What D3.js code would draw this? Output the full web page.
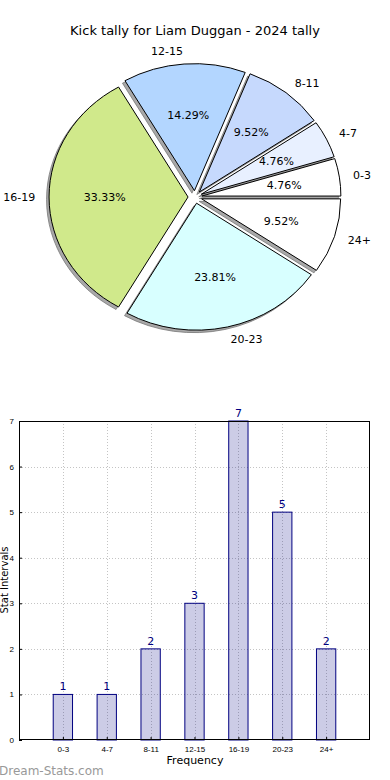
<!DOCTYPE html>
<html>
<head>
<meta charset="utf-8">
<script src="https://cdn.jsdelivr.net/npm/d3@7"></script>
<style>
  body { margin: 0; background: #fff; }
  svg { display: block; font-family: "DejaVu Sans", sans-serif; }
</style>
</head>
<body>
<div id="chart"></div>
<script>
var categories = ["0-3", "4-7", "8-11", "12-15", "16-19", "20-23", "24+"];
var counts = [1, 1, 2, 3, 7, 5, 2];
var sliceColors = ["#ffffff", "#e8f0ff", "#c6d9fd", "#b3d6ff", "#d0e98b", "#d8ffff", "#ffffff"];
var yTicks = [0, 1, 2, 3, 4, 5, 6, 7];

(function() {
  var width = 390, height = 780;

  var svg = d3.select("#chart").append("svg")
    .attr("width", width)
    .attr("height", height);

  // ---------- pie ----------
  svg.append("text")
    .attr("x", 195).attr("y", 35)
    .attr("text-anchor", "middle")
    .style("font-size", "13px")
    .text("Kick tally for Liam Duggan - 2024 tally");

  var cx = 195, cy = 197, rx = 139, ry = 127, explode = 0.05;
  var total = d3.sum(counts);

  // matplotlib starts at 3 o'clock and goes counter-clockwise
  var pie = d3.pie().sort(null)
    .startAngle(Math.PI / 2)
    .endAngle(Math.PI / 2 - 2 * Math.PI);

  var slices = pie(counts);

  var arc = d3.arc().innerRadius(0).outerRadius(1);

  function mid(d) { return (d.startAngle + d.endAngle) / 2; }

  var pieG = svg.append("g");

  // shadows first
  pieG.selectAll(".shadow")
    .data(slices)
    .enter().append("path")
    .attr("class", "shadow")
    .attr("transform", function(d) {
      var m = mid(d);
      var dx = cx + Math.sin(m) * explode * rx - 2.5;
      var dy = cy - Math.cos(m) * explode * ry + 2.5;
      return "translate(" + dx + "," + dy + ") scale(" + rx + "," + ry + ")";
    })
    .attr("d", arc)
    .attr("fill", "#a8a8a8")
    .attr("stroke", "#777")
    .attr("stroke-width", 0.8)
    .attr("vector-effect", "non-scaling-stroke");

  pieG.selectAll(".slice")
    .data(slices)
    .enter().append("path")
    .attr("class", "slice")
    .attr("transform", function(d) {
      var m = mid(d);
      var dx = cx + Math.sin(m) * explode * rx;
      var dy = cy - Math.cos(m) * explode * ry;
      return "translate(" + dx + "," + dy + ") scale(" + rx + "," + ry + ")";
    })
    .attr("d", arc)
    .attr("fill", function(d, i) { return sliceColors[i]; })
    .attr("stroke", "#000")
    .attr("stroke-width", 1)
    .attr("vector-effect", "non-scaling-stroke");

  // category labels
  pieG.selectAll(".plabel")
    .data(slices)
    .enter().append("text")
    .attr("x", function(d) { return cx + Math.sin(mid(d)) * (1.1 + explode) * rx; })
    .attr("y", function(d) { return cy - Math.cos(mid(d)) * (1.1 + explode) * ry; })
    .attr("dy", "0.35em")
    .attr("text-anchor", function(d) { return Math.sin(mid(d)) < 0 ? "end" : "start"; })
    .style("font-size", "11px")
    .text(function(d, i) { return categories[i]; });

  // percentages
  pieG.selectAll(".pct")
    .data(slices)
    .enter().append("text")
    .attr("x", function(d) { return cx + Math.sin(mid(d)) * (0.6 + explode) * rx; })
    .attr("y", function(d) { return cy - Math.cos(mid(d)) * (0.6 + explode) * ry; })
    .attr("dy", "0.35em")
    .attr("text-anchor", "middle")
    .style("font-size", "11px")
    .text(function(d) { return (d.value / total * 100).toFixed(2) + "%"; });

  // ---------- bars ----------
  var pLeft = 19, pRight = 370, pTop = 421, pBottom = 740;

  var x = d3.scalePoint().domain(categories).range([pLeft, pRight]).padding(1);
  var y = d3.scaleLinear().domain([0, 7]).range([pBottom, pTop]);
  var barW = x.step() * 0.44;

  var grid = svg.append("g")
    .attr("stroke", "#c4c4c4")
    .attr("stroke-width", 1)
    .attr("stroke-dasharray", "1,2");

  grid.selectAll(".vg")
    .data(categories)
    .enter().append("line")
    .attr("x1", function(d) { return Math.round(x(d)) + 0.5; })
    .attr("x2", function(d) { return Math.round(x(d)) + 0.5; })
    .attr("y1", pTop).attr("y2", pBottom);

  grid.selectAll(".hg")
    .data(yTicks.slice(1, -1))
    .enter().append("line")
    .attr("x1", pLeft).attr("x2", pRight)
    .attr("y1", function(d) { return Math.round(y(d)) + 0.5; })
    .attr("y2", function(d) { return Math.round(y(d)) + 0.5; });

  svg.selectAll(".bar")
    .data(counts)
    .enter().append("rect")
    .attr("class", "bar")
    .attr("x", function(d, i) { return x(categories[i]) - barW / 2; })
    .attr("y", function(d) { return y(d); })
    .attr("width", barW)
    .attr("height", function(d) { return pBottom - y(d); })
    .attr("fill", "rgba(0,0,128,0.2)")
    .attr("stroke", "#000080")
    .attr("stroke-width", 1);

  svg.selectAll(".val")
    .data(counts)
    .enter().append("text")
    .attr("x", function(d, i) { return x(categories[i]); })
    .attr("y", function(d) { return y(d) - 4; })
    .attr("text-anchor", "middle")
    .attr("fill", "#000080")
    .style("font-size", "11px")
    .text(function(d) { return d; });

  // frame
  svg.append("rect")
    .attr("x", pLeft + 0.5).attr("y", pTop + 0.5)
    .attr("width", pRight - pLeft - 1).attr("height", pBottom - pTop - 1)
    .attr("fill", "none")
    .attr("stroke", "#000")
    .attr("stroke-width", 1);

  var xAxis = svg.append("g")
    .attr("transform", "translate(0," + pBottom + ")")
    .call(d3.axisBottom(x).tickSizeInner(-3).tickSizeOuter(0).tickPadding(6));
  xAxis.select(".domain").remove();
  xAxis.selectAll("text").style("font-size", "8px").attr("fill", "#000");

  var yAxis = svg.append("g")
    .attr("transform", "translate(" + pLeft + ",0)")
    .call(d3.axisLeft(y).tickValues(yTicks).tickFormat(d3.format("d")).tickSizeInner(-3).tickSizeOuter(0).tickPadding(5));
  yAxis.select(".domain").remove();
  yAxis.selectAll("text").style("font-size", "8px").attr("fill", "#000");

  svg.append("text")
    .attr("x", 195).attr("y", 764)
    .attr("text-anchor", "middle")
    .style("font-size", "11px")
    .text("Frequency");

  svg.append("text")
    .attr("transform", "translate(8,580) rotate(-90)")
    .attr("text-anchor", "middle")
    .style("font-size", "10px")
    .text("Stat Intervals");

  svg.append("text")
    .attr("x", -1).attr("y", 775)
    .attr("fill", "#999")
    .style("font-size", "12px")
    .text("Dream-Stats.com");
})();
</script>
</body>
</html>
